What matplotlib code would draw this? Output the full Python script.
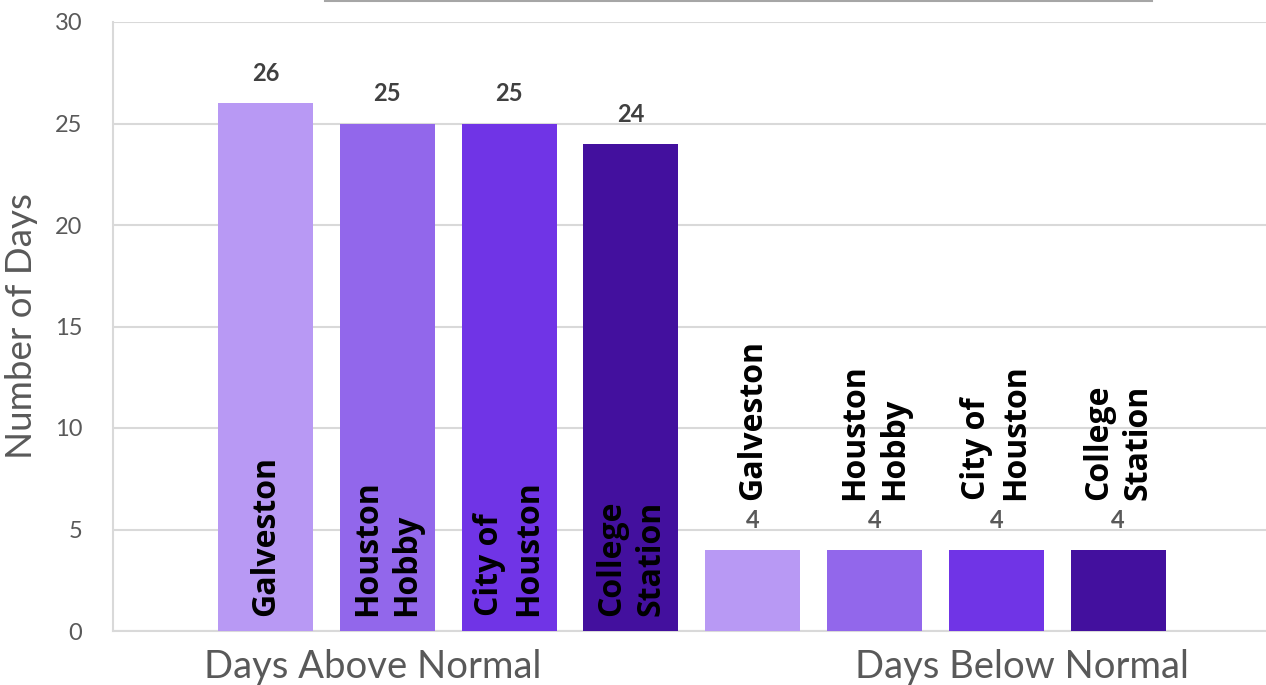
import matplotlib
matplotlib.use("Agg")
import matplotlib.pyplot as plt
from matplotlib.lines import Line2D

groups = ["Days Above Normal", "Days Below Normal"]
stations = ["Galveston", "Houston\nHobby", "City of\nHouston", "College\nStation"]
above = [26, 25, 25, 24]
below = [4, 4, 4, 4]
colors = ["#b899f4", "#9267eb", "#7034e6", "#43109e"]
y_ticks = [0, 5, 10, 15, 20, 25, 30]

plt.rcParams['font.family'] = ['Lato', 'DejaVu Sans']

fig = plt.figure(figsize=(12.66, 6.85), dpi=100)
ax = fig.add_axes([113 / 1266, 54 / 685, 1153 / 1266, 609 / 685])

grid_c = "#d9d9d9"
for k, vals in enumerate([above, below]):
    xs = [k * 4 + i for i in range(len(vals))]
    ax.bar(xs, vals, width=0.78, color=colors, zorder=3)
    for x, v, name in zip(xs, vals, stations):
        ax.annotate(str(v), (x, v), xytext=(0, 13), textcoords="offset points",
                    ha="center", va="bottom", fontsize=17, fontweight="bold",
                    color="#404040" if k == 0 else "#595959")
        if k == 0:
            ax.text(x, 0.75, name, rotation=90, ha="center", va="bottom",
                    multialignment="left", fontsize=23, fontweight="bold",
                    family="Open Sans", color="black", linespacing=1.25,
                    zorder=4)
        else:
            ax.annotate(name, (x, v), xytext=(0, 36), textcoords="offset points",
                        rotation=90, ha="center", va="bottom",
                        multialignment="left", fontsize=23, fontweight="bold",
                        family="Open Sans", color="black", linespacing=1.25)

ax.set_xlim(-1.252, 8.214)
ax.set_ylim(0, 30)
ax.set_yticks(y_ticks)
ax.yaxis.grid(True, color=grid_c, linewidth=1.5, zorder=0)
ax.tick_params(axis="y", length=0, pad=22, labelsize=17, labelcolor="#595959")
ax.set_xticks([0.88, 6.21], groups)
ax.tick_params(axis="x", length=0, pad=13, labelsize=27.5, labelcolor="#595959")
ax.set_ylabel("Number of Days", fontsize=26.5, color="#595959", labelpad=12)
for s in ["top", "right"]:
    ax.spines[s].set_visible(False)
ax.spines["left"].set_color(grid_c)
ax.spines["left"].set_linewidth(1.5)
ax.spines["bottom"].set_color(grid_c)
ax.spines["bottom"].set_linewidth(1.5)

fig.add_artist(Line2D([325 / 1266, 1152 / 1266], [684 / 685, 684 / 685],
                      color="#a6a6a6", linewidth=1.5))

fig.savefig("out.png", dpi=100)
